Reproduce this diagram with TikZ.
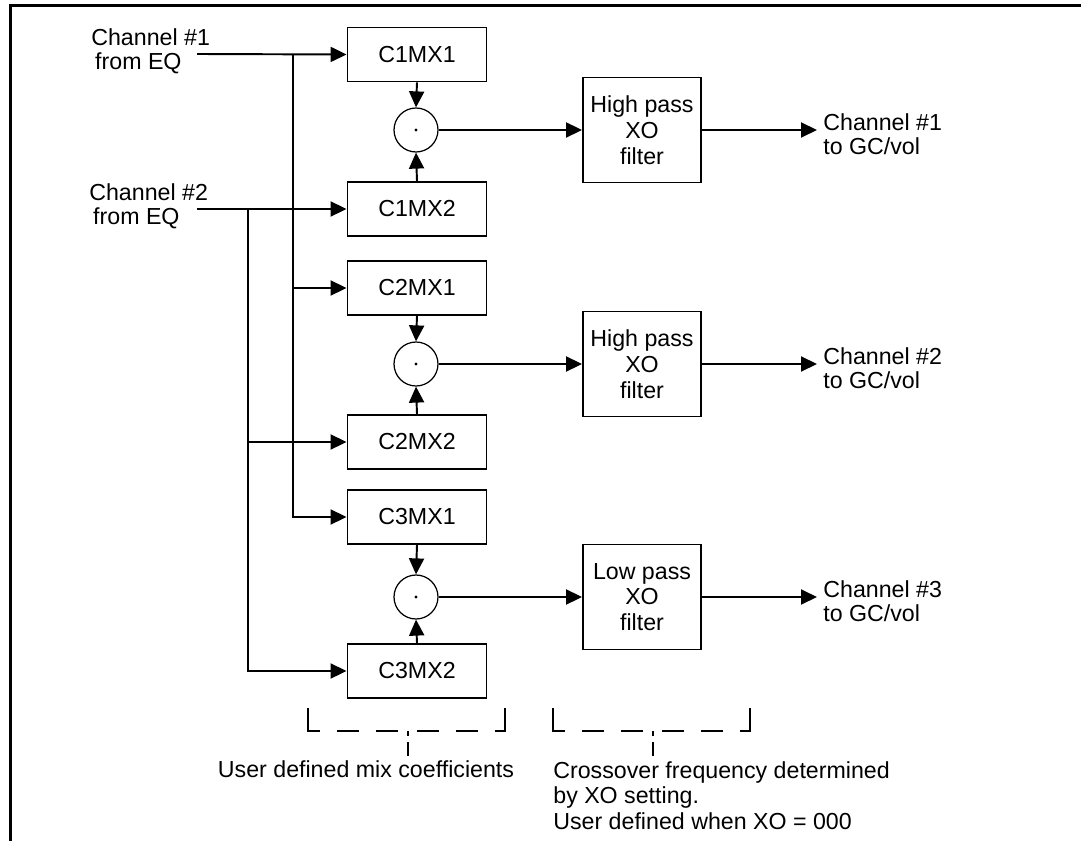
\documentclass[tikz,border=0pt]{standalone}
\usepackage{fontspec}
\setmainfont{Liberation Sans}
\usetikzlibrary{arrows.meta}
\begin{document}
\begin{tikzpicture}[x=0.02cm,y=-0.02cm,
  wire/.style={line width=1.1pt},
  arr/.style={wire,-{Triangle[length=0.32cm,width=0.3cm]}},
  mixbox/.style={draw,line width=1.1pt,minimum width=2.78cm,minimum height=1.08cm,inner sep=0pt,font=\fontsize{13.2}{14}\selectfont},
  mult/.style={draw,circle,line width=0.7pt,minimum size=0.88cm,inner sep=0pt},
  filt/.style={draw,line width=1.1pt,minimum width=2.36cm,minimum height=2.1cm,inner sep=0pt,align=center,font=\fontsize{13.2}{14.7}\selectfont},
  lbl/.style={align=left,inner sep=0pt,font=\fontsize{13.2}{13.5}\selectfont},
  note/.style={align=left,inner sep=0pt,font=\fontsize{13.2}{14.5}\selectfont},
  bracket/.style={line width=1.1pt,dash pattern=on 0.70cm off 0.34cm on 0.44cm off 0.34cm on 0.44cm off 0.38cm on 0.44cm off 0.34cm on 0.44cm off 0.34cm on 0.8cm},
  stem/.style={line width=1.1pt,dash pattern=on 0.1cm off 0.12cm on 0.6cm},
  frame/.style={line width=1.7pt}]
\useasboundingbox (0,0) rectangle (1081,841);
% frame
\draw[frame] (10.5,841) -- (10.5,5.5) -- (1081,5.5);
% inputs
\node[lbl,anchor=west] (in1) at (91,51) {Channel \#1\\\,from EQ};
\node[lbl,anchor=west] (in2) at (89,206) {Channel \#2\\\,from EQ};
\coordinate (s1) at (197,54);
\coordinate (s2) at (197,209);
\coordinate (j1) at (293,54);
\coordinate (j2) at (248,209);
% mix boxes
\node[mixbox] (m11) at (417,54.5) {C1MX1};
\node[mixbox] (m12) at (417,209) {C1MX2};
\node[mixbox] (m21) at (417,288) {C2MX1};
\node[mixbox] (m22) at (417,442) {C2MX2};
\node[mixbox] (m31) at (417,517) {C3MX1};
\node[mixbox] (m32) at (417,671) {C3MX2};
% multipliers
\node[mult] (x1) at (416,130) {};
\node[mult] (x2) at (416,364) {};
\node[mult] (x3) at (416,597) {};
\foreach \n in {x1,x2,x3} \fill (\n.center) circle (1.6);
% filters
\node[filt] (f1) at (642,130) {High pass\\XO\\filter};
\node[filt] (f2) at (642,364) {High pass\\XO\\filter};
\node[filt] (f3) at (642,597) {Low pass\\XO\\filter};
% outputs
\coordinate (o1) at (817,130);
\coordinate (o2) at (817,364);
\coordinate (o3) at (817,597);
\node[lbl,anchor=west] (t1) at (823,134) {Channel \#1\\to GC/vol};
\node[lbl,anchor=west] (t2) at (823,368) {Channel \#2\\to GC/vol};
\node[lbl,anchor=west] (t3) at (823,601) {Channel \#3\\to GC/vol};
% input wiring
\draw[arr] (s1) -- (m11.west);
\draw[arr] (s2) -- (m12.west);
\draw[wire] (j1) -- (293,517);
\draw[wire] (j2) -- (248,671);
\draw[arr] (j1) |- (m21.west);
\draw[arr] (j1) |- (m31.west);
\draw[arr] (j2) |- (m22.west);
\draw[arr] (j2) |- (m32.west);
% multiplier wiring
\foreach \a/\b/\x/\f/\o in {m11/m12/x1/f1/o1, m21/m22/x2/f2/o2, m31/m32/x3/f3/o3}{
  \draw[arr] (\a.south) -- (\x.north);
  \draw[arr] (\b.north) -- (\x.south);
  \draw[arr] (\x.east) -- (\f.west);
  \draw[arr] (\f.east) -- (\o);
}
% brackets
\draw[bracket] (308,708) -- (308,731) -- (505,731) -- (505,708);
\draw[bracket] (553,708) -- (553,731) -- (750,731) -- (750,708);
\coordinate (b1) at (408,731);
\coordinate (b2) at (653,731);
\coordinate (c1) at (408,756);
\coordinate (c2) at (653,756);
\draw[stem] (b1) -- (c1);
\draw[stem] (b2) -- (c2);
\node[note,anchor=base] (n1) at (366,777) {User defined mix coefficients};
\node[note,anchor=north west] (n2) at (553,761) {Crossover frequency determined\\by XO setting.\\User defined when XO = 000};
\end{tikzpicture}
\end{document}
